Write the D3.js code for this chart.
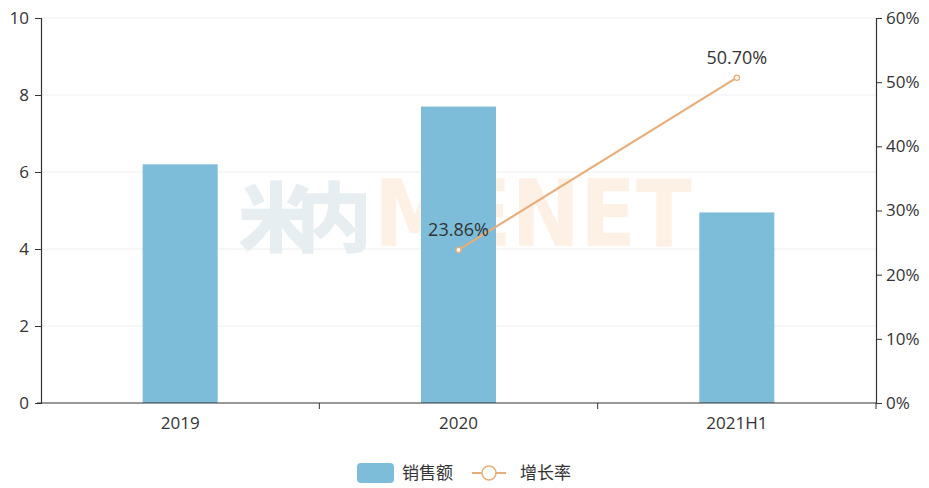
<!DOCTYPE html>
<html><head><meta charset="utf-8">
<script src="https://cdn.jsdelivr.net/npm/d3@7"></script>
<style>body{margin:0;background:#fff;}svg{display:block;font-family:"Open Sans","Noto Sans CJK SC",sans-serif;}</style>
</head><body>
<svg id="c" width="929" height="488"></svg>
<script>
const categories = ["2019", "2020", "2021H1"];
const sales = [6.2, 7.7, 4.95];
const growth = [null, 23.86, 50.70];
const leftTicks = [0, 2, 4, 6, 8, 10];
const rightTicks = [0, 10, 20, 30, 40, 50, 60];
const seriesNames = ["销售额", "增长率"];

const svg = d3.select("#c");
const L = 41, R = 876, T = 18, B = 403;
const x = d3.scaleBand().domain(categories).range([L, R]);
const yL = d3.scaleLinear().domain([0, 10]).range([B, T]);
const yR = d3.scaleLinear().domain([0, 60]).range([B, T]);
const barColor = "#7dbdd9", lineColor = "#e8ad78", txt = "#333";
const numFont = "'Open Sans', sans-serif";

// gridlines
svg.append("g").selectAll("line").data(leftTicks.filter(d => d > 0)).join("line")
  .attr("x1", L).attr("x2", R).attr("y1", d => yL(d)).attr("y2", d => yL(d))
  .attr("stroke", "#eeeeee").attr("stroke-width", 1);

// watermark (logo)
const wm = svg.append("g").attr("font-weight", 900);
wm.append("text").attr("x", 238).attr("y", 246).attr("font-size", 76).attr("fill", "#e6eef1")
  .attr("font-family", "'Noto Sans CJK SC', sans-serif").attr("textLength", 134).text("米内");
wm.append("text").attr("x", 374).attr("y", 246).attr("font-size", 92).attr("fill", "#fdf1e6")
  .attr("font-family", "'DejaVu Sans', sans-serif").attr("font-weight", 700)
  .attr("textLength", 318).attr("lengthAdjust", "spacingAndGlyphs").text("MENET");

// bars
const bw = 75;
svg.append("g").selectAll("rect").data(categories).join("rect")
  .attr("x", d => x(d) + x.bandwidth() / 2 - bw / 2)
  .attr("width", bw)
  .attr("y", (d, i) => yL(sales[i]))
  .attr("height", (d, i) => B - yL(sales[i]))
  .attr("fill", barColor);

// axes
const axL = svg.append("g").attr("transform", `translate(${L},0)`)
  .call(d3.axisLeft(yL).tickValues(leftTicks).tickSize(6).tickPadding(6).tickFormat(d3.format("d")));
const axR = svg.append("g").attr("transform", `translate(${R},0)`)
  .call(d3.axisRight(yR).tickValues(rightTicks).tickSize(6).tickPadding(4).tickFormat(d => d + "%"));
const axB = svg.append("g").attr("transform", `translate(0,${B})`)
  .call(d3.axisBottom(x).tickSize(0).tickPadding(14));
svg.append("g").selectAll("line").data([1, 2, 3]).join("line")
  .attr("x1", i => i < 3 ? x(categories[i]) : R)
  .attr("x2", i => i < 3 ? x(categories[i]) : R)
  .attr("y1", B).attr("y2", B + 6).attr("stroke", "#333");
[axL, axR, axB].forEach(a => {
  a.selectAll(".domain").attr("stroke", "#333").attr("stroke-width", 1.2);
  a.selectAll(".tick line").attr("stroke", "#333");
  a.selectAll("text").attr("fill", txt).attr("font-size", 17).attr("font-weight", 400).attr("font-family", numFont);
});
axB.select(".domain").attr("d", `M${L - 4},0H${R}`);

// line
const pts = categories.map((c, i) => ({c, v: growth[i]})).filter(d => d.v != null);
const lx = d => x(d.c) + x.bandwidth() / 2;
svg.append("path").datum(pts)
  .attr("d", d3.line().x(lx).y(d => yR(d.v)))
  .attr("fill", "none").attr("stroke", lineColor).attr("stroke-width", 2.2);
svg.append("g").selectAll("circle").data(pts).join("circle")
  .attr("cx", lx).attr("cy", d => yR(d.v)).attr("r", 2.6)
  .attr("fill", "#fff").attr("stroke", lineColor).attr("stroke-width", 1.3);
svg.append("g").selectAll("text").data(pts).join("text")
  .attr("x", lx).attr("y", d => yR(d.v) - 14)
  .attr("text-anchor", "middle").attr("font-size", 18).attr("font-weight", 400).attr("fill", txt)
  .attr("font-family", numFont)
  .text(d => d.v.toFixed(2) + "%");

// legend
const lg = svg.append("g");
lg.append("rect").attr("x", 357).attr("y", 463).attr("width", 37).attr("height", 20).attr("rx", 4).attr("fill", barColor);
lg.append("text").attr("x", 402).attr("y", 479).attr("font-size", 17).attr("fill", txt)
  .attr("font-family", "'Noto Sans CJK SC', sans-serif").attr("font-weight", 400).text(seriesNames[0]);
lg.append("line").attr("x1", 472).attr("x2", 506).attr("y1", 473).attr("y2", 473).attr("stroke", lineColor).attr("stroke-width", 2);
lg.append("circle").attr("cx", 489).attr("cy", 473).attr("r", 7).attr("fill", "#fff").attr("stroke", lineColor).attr("stroke-width", 1.5);
lg.append("text").attr("x", 520).attr("y", 479).attr("font-size", 17).attr("fill", txt)
  .attr("font-family", "'Noto Sans CJK SC', sans-serif").attr("font-weight", 400).text(seriesNames[1]);
</script>
</body></html>
